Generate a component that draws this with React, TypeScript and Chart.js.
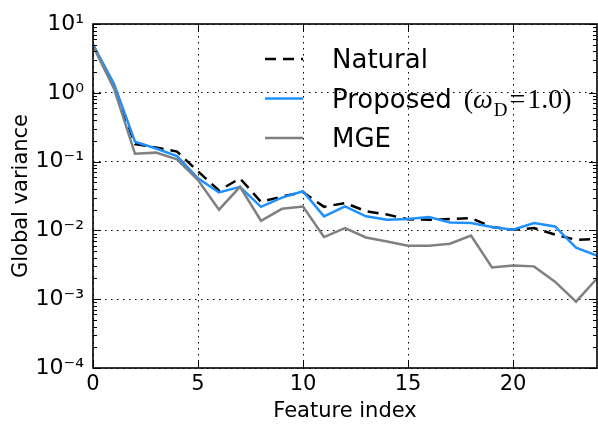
import { useEffect, useRef } from 'react';
import { Chart, registerables } from 'chart.js';

Chart.register(...registerables);

const featureIndex = [0, 1, 2, 3, 4, 5, 6, 7, 8, 9, 10, 11, 12, 13, 14, 15, 16, 17, 18, 19, 20, 21, 22, 23, 24];
const naturalValues = [5.0, 1.22, 0.18, 0.16, 0.14, 0.072, 0.038, 0.057, 0.026, 0.031, 0.036, 0.022, 0.025, 0.019, 0.017, 0.0145, 0.0143, 0.0146, 0.0151, 0.0112, 0.0102, 0.0108, 0.0087, 0.0073, 0.0075];
const proposedValues = [5.0, 1.35, 0.195, 0.155, 0.12, 0.057, 0.0356, 0.043, 0.022, 0.03, 0.037, 0.016, 0.0223, 0.016, 0.0143, 0.0146, 0.0156, 0.013, 0.0128, 0.0112, 0.0102, 0.0128, 0.0114, 0.0056, 0.0043];
const mgeValues = [4.8, 1.15, 0.13, 0.135, 0.108, 0.054, 0.02, 0.043, 0.0138, 0.0206, 0.0222, 0.008, 0.0108, 0.0079, 0.0069, 0.006, 0.006, 0.0064, 0.0084, 0.0029, 0.0031, 0.003, 0.0018, 0.00092, 0.002];
const seriesLabels = ['Natural', 'Proposed', 'MGE'];
const proposedSuffix = { open: '(', symbol: 'ω', sub: 'D', eq: '=', rest: '1.0)' };
const xTickValues = [0, 5, 10, 15, 20];
const yTickExponents = [-4, -3, -2, -1, 0, 1];

const SUP: Record<string, string> = { '-': '⁻', '0': '⁰', '1': '¹', '2': '²', '3': '³', '4': '⁴', '5': '⁵', '6': '⁶', '7': '⁷', '8': '⁸', '9': '⁹' };
const toSup = (n: number) => String(n).split('').map((c) => SUP[c] || c).join('');

const FONT = 'DejaVu Sans';
const SERIF = 'Liberation Serif';

const axisDecor = {
  id: 'axisDecor',
  afterDatasetsDraw(chart: any) {
    const { ctx, chartArea: a, scales } = chart;
    const x = scales.x;
    const y = scales.y;
    ctx.save();
    ctx.strokeStyle = '#000';
    ctx.lineWidth = 1;
    ctx.beginPath();
    const eMin = yTickExponents[0];
    const eMax = yTickExponents[yTickExponents.length - 1];
    for (let e = eMin; e <= eMax; e++) {
      for (let m = 1; m < 10; m++) {
        if (e === eMax && m > 1) break;
        const v = m * Math.pow(10, e);
        const py = Math.round(y.getPixelForValue(v)) + 0.5;
        const len = m === 1 ? 8 : 4;
        ctx.moveTo(a.left, py);
        ctx.lineTo(a.left + len, py);
        ctx.moveTo(a.right, py);
        ctx.lineTo(a.right - len, py);
      }
    }
    for (const v of xTickValues) {
      const px = Math.round(x.getPixelForValue(v)) + 0.5;
      ctx.moveTo(px, a.bottom);
      ctx.lineTo(px, a.bottom - 8);
      ctx.moveTo(px, a.top);
      ctx.lineTo(px, a.top + 8);
    }
    ctx.stroke();
    ctx.lineWidth = 1.6;
    ctx.strokeRect(a.left, a.top, a.right - a.left, a.bottom - a.top);
    ctx.restore();
  },
};

const customLegend = {
  id: 'customLegend',
  afterDraw(chart: any) {
    const { ctx, chartArea: a } = chart;
    ctx.save();
    chart.data.datasets.forEach((ds: any, i: number) => {
      const cy = a.top + 35 + i * 39.5;
      ctx.beginPath();
      ctx.strokeStyle = ds.borderColor;
      ctx.lineWidth = ds.borderWidth;
      ctx.setLineDash(ds.borderDash || []);
      ctx.moveTo(a.left + 172, cy);
      ctx.lineTo(a.left + 210, cy);
      ctx.stroke();
      ctx.setLineDash([]);
      ctx.fillStyle = '#000';
      ctx.font = `26px "${FONT}"`;
      ctx.textBaseline = 'alphabetic';
      ctx.textAlign = 'left';
      const tx = a.left + 239;
      const base = cy + 9;
      ctx.fillText(ds.label, tx, base);
      if (i === 1) {
        let mx = tx + ctx.measureText(ds.label).width + 12;
        const mb = base;
        ctx.font = `28px "${SERIF}"`;
        ctx.fillText(proposedSuffix.open, mx, mb);
        mx += ctx.measureText(proposedSuffix.open).width;
        ctx.font = `italic 28px "${SERIF}"`;
        ctx.fillText(proposedSuffix.symbol, mx, mb);
        mx += ctx.measureText(proposedSuffix.symbol).width + 1;
        ctx.font = `19px "${SERIF}"`;
        ctx.fillText(proposedSuffix.sub, mx, mb + 8);
        mx += ctx.measureText(proposedSuffix.sub).width + 2;
        ctx.font = `28px "${SERIF}"`;
        ctx.fillText(proposedSuffix.eq, mx, mb);
        mx += ctx.measureText(proposedSuffix.eq).width + 2;
        ctx.fillText(proposedSuffix.rest, mx, mb);
      }
    });
    ctx.restore();
  },
};

export default function App() {
  const ref = useRef<HTMLCanvasElement | null>(null);
  useEffect(() => {
    if (!ref.current) return;
    const mk = (vals: number[]) => featureIndex.map((x, i) => ({ x, y: vals[i] }));
    const chart = new Chart(ref.current, {
      type: 'line',
      data: {
        datasets: [
          { label: seriesLabels[0], data: mk(naturalValues), borderColor: '#000000', borderWidth: 2.5, borderDash: [11, 7], pointRadius: 0, tension: 0, fill: false, order: 3 },
          { label: seriesLabels[1], data: mk(proposedValues), borderColor: '#1E90FF', borderWidth: 2.5, pointRadius: 0, tension: 0, fill: false, order: 2 },
          { label: seriesLabels[2], data: mk(mgeValues), borderColor: '#808080', borderWidth: 2.5, pointRadius: 0, tension: 0, fill: false, order: 1 },
        ],
      },
      options: {
        animation: false,
        responsive: false,
        devicePixelRatio: 1,
        layout: { padding: { top: 24, right: 1, left: 0, bottom: 0 } },
        plugins: { legend: { display: false }, tooltip: { enabled: false } },
        scales: {
          x: {
            type: 'linear',
            min: 0,
            max: 24,
            afterBuildTicks: (s: any) => { s.ticks = xTickValues.map((v) => ({ value: v })); },
            afterFit: (s: any) => { s.height = 59; },
            grid: { color: '#000', lineWidth: 1, drawTicks: false },
            border: { display: false, dash: [1.5, 4.5] },
            ticks: { color: '#000', font: { family: FONT, size: 21 }, padding: 4, maxRotation: 0 },
            title: { display: true, text: 'Feature index', color: '#000', font: { family: FONT, size: 21 }, padding: { top: 0, bottom: 3 } },
          },
          y: {
            type: 'logarithmic',
            min: 1e-4,
            max: 10,
            afterBuildTicks: (s: any) => { s.ticks = yTickExponents.map((e) => ({ value: Math.pow(10, e) })); },
            afterFit: (s: any) => { s.width = 93; },
            grid: { color: '#000', lineWidth: 1, drawTicks: false },
            border: { display: false, dash: [1.5, 4.5] },
            ticks: {
              color: '#000',
              font: { family: FONT, size: 22 },
              padding: 9,
              callback: (v: any) => '10' + toSup(Math.round(Math.log10(Number(v)))),
            },
            title: { display: true, text: 'Global variance', color: '#000', font: { family: FONT, size: 21 }, padding: { top: 9, bottom: 0 } },
          },
        },
      },
      plugins: [axisDecor, customLegend],
    } as any);
    return () => chart.destroy();
  }, []);
  return (
    <div style={{ position: 'fixed', left: 0, top: 0, width: 598, height: 427, background: '#fff' }}>
      <canvas ref={ref} width={598} height={427} style={{ width: 598, height: 427, display: 'block' }} />
    </div>
  );
}
